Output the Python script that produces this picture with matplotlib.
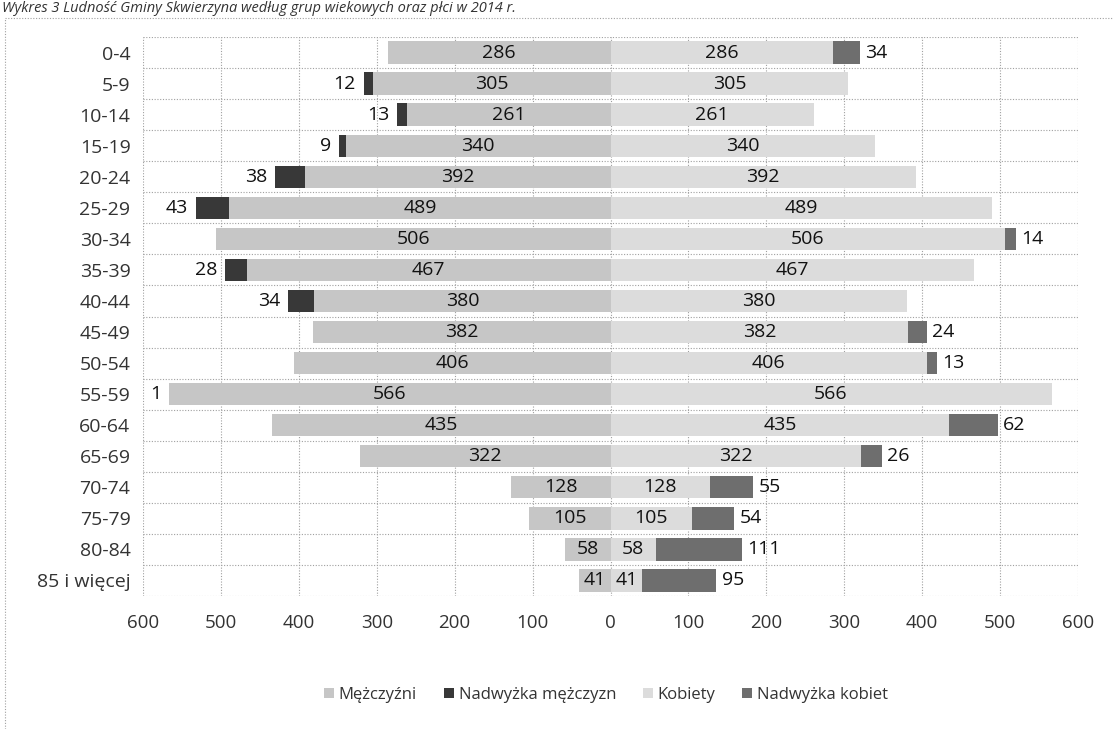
import matplotlib
matplotlib.use("Agg")
import matplotlib.pyplot as plt
from matplotlib.lines import Line2D
from matplotlib.patches import Patch
import numpy as np

title = "Wykres 3 Ludność Gminy Skwierzyna według grup wiekowych oraz płci w 2014 r."
categories = ["0-4", "5-9", "10-14", "15-19", "20-24", "25-29", "30-34", "35-39",
              "40-44", "45-49", "50-54", "55-59", "60-64", "65-69", "70-74",
              "75-79", "80-84", "85 i więcej"]
men = [286, 305, 261, 340, 392, 489, 506, 467, 380, 382, 406, 566, 435, 322, 128, 105, 58, 41]
men_excess = [0, 12, 13, 9, 38, 43, 0, 28, 34, 0, 0, 1, 0, 0, 0, 0, 0, 0]
women = [286, 305, 261, 340, 392, 489, 506, 467, 380, 382, 406, 566, 435, 322, 128, 105, 58, 41]
women_excess = [34, 0, 0, 0, 0, 0, 14, 0, 0, 24, 13, 0, 62, 26, 55, 54, 111, 95]
xticks = [-600, -500, -400, -300, -200, -100, 0, 100, 200, 300, 400, 500, 600]
legend_labels = ["Mężczyźni", "Nadwyżka mężczyzn", "Kobiety", "Nadwyżka kobiet"]

FONT = ["Open Sans", "DejaVu Sans"]
plt.rcParams['font.family'] = FONT

c_men = "#c6c6c6"
c_men_ex = "#383838"
c_women = "#dcdcdc"
c_women_ex = "#6e6e6e"
grid_c = "#a0a0a0"

fig = plt.figure(figsize=(11.13, 7.29), dpi=100)
ax = fig.add_axes([143/1113, 1 - 596/729, 935/1113, 559/729])

n = len(categories)
y = np.arange(n)
men_a = np.array(men)
men_ex_a = np.array(men_excess)
wom_a = np.array(women)
wom_ex_a = np.array(women_excess)
h = 0.72

ax.barh(y, -men_a, height=h, color=c_men, zorder=2)
ax.barh(y, -men_ex_a, left=-men_a, height=h, color=c_men_ex, zorder=2)
ax.barh(y, wom_a, height=h, color=c_women, zorder=2)
ax.barh(y, wom_ex_a, left=wom_a, height=h, color=c_women_ex, zorder=2)

fs = 14
for i in range(n):
    ax.text(-men_a[i] / 2, y[i], str(men_a[i]), ha="center", va="center",
            fontsize=fs, color="#111111", zorder=3)
    ax.text(wom_a[i] / 2, y[i], str(wom_a[i]), ha="center", va="center",
            fontsize=fs, color="#111111", zorder=3)
    if men_ex_a[i] > 0:
        ax.text(-men_a[i] - men_ex_a[i] - 10, y[i], str(men_ex_a[i]), ha="right",
                va="center", fontsize=fs, color="#111111", zorder=3)
    if wom_ex_a[i] > 0:
        ax.text(wom_a[i] + wom_ex_a[i] + 7, y[i], str(wom_ex_a[i]), ha="left",
                va="center", fontsize=fs, color="#111111", zorder=3)

ax.set_xlim(-600, 600)
ax.set_ylim(n - 0.5, -0.5)
ax.set_xticks(xticks)
ax.set_xticklabels([str(abs(t)) for t in xticks], fontsize=13.5, color="#333333")
ax.set_yticks(y)
ax.set_yticklabels(categories, fontsize=14, color="#333333")
ax.tick_params(axis="both", length=0)
ax.tick_params(axis="x", pad=13)
ax.tick_params(axis="y", pad=9)

for xv in xticks:
    ax.axvline(xv, color=grid_c, linestyle=(0, (1, 1.5)), linewidth=0.8, zorder=1)
for yb in np.arange(-0.5, n, 1.0):
    ax.axhline(yb, color=grid_c, linestyle=(0, (1, 1.5)), linewidth=0.8, zorder=1)
for s in ax.spines.values():
    s.set_visible(False)

handles = [Patch(facecolor=c_men), Patch(facecolor=c_men_ex),
           Patch(facecolor=c_women), Patch(facecolor=c_women_ex)]
fig.legend(handles, legend_labels, loc="center", bbox_to_anchor=(606/1113, 1 - 695/729),
           ncol=4, frameon=False, fontsize=12, handlelength=0.6, handleheight=0.6,
           handletextpad=0.3, columnspacing=1.6, labelcolor="#333333")

# outer chart border (left and top)
fig.add_artist(Line2D([5/1113, 5/1113], [0, 1 - 18/729], color=grid_c, linewidth=0.8,
                      linestyle=(0, (1, 1.5))))
fig.add_artist(Line2D([5/1113, 1], [1 - 18/729, 1 - 18/729], color=grid_c, linewidth=0.8,
                      linestyle=(0, (1, 1.5))))

fig.text(2/1113, 1 - 1/729, title, ha="left", va="top", fontsize=10.5,
         style="italic", color="#333333")

fig.savefig("out.png", dpi=100)
